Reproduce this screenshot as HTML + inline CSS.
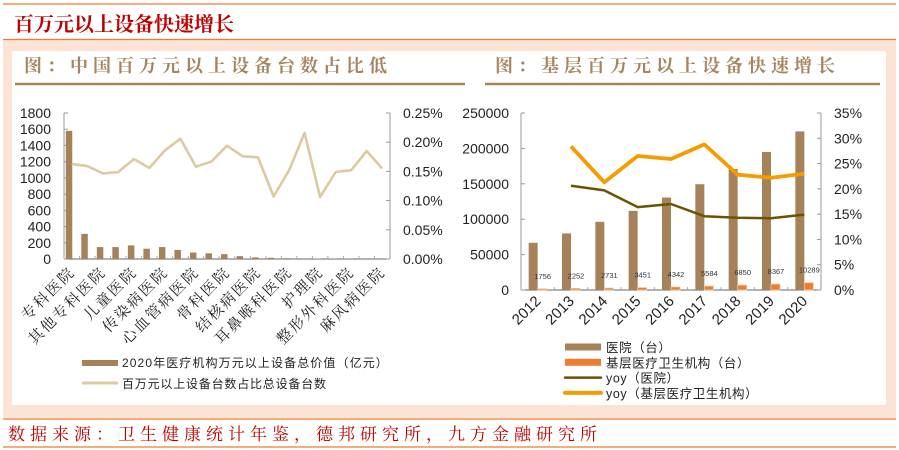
<!DOCTYPE html>
<html><head><meta charset="utf-8">
<style>
html,body{margin:0;padding:0;background:#fff;}
svg{display:block;}
text{font-family:"Liberation Sans","Noto Sans CJK SC",sans-serif;}
.cjk{font-family:"Noto Serif CJK SC","Liberation Serif",serif;}
</style></head>
<body>
<svg id="root" width="899" height="450" xmlns="http://www.w3.org/2000/svg">
  <rect x="0" y="0" width="899" height="450" fill="#fff"/>
  <line x1="3" y1="4" x2="896" y2="4" stroke="#ed7d31" stroke-width="1.2"/>
  <text x="14" y="31" class="cjk" font-size="20" fill="#c00000" font-weight="bold">百万元以上设备快速增长</text>
  <rect x="3" y="39" width="893" height="379" fill="#fbe3d6"/>
  <line x1="3" y1="39.5" x2="896" y2="39.5" stroke="#ed7d31" stroke-width="1.2"/>
  <rect x="12" y="51" width="874" height="354" fill="#fff"/>
  <text x="24" y="72" class="cjk" font-size="18" fill="#a6845e" font-weight="bold" letter-spacing="5">图：中国百万元以上设备台数占比低</text>
  <line x1="15" y1="84" x2="465" y2="84" stroke="#a6845e" stroke-width="2.5"/>
  <text x="495" y="72" class="cjk" font-size="18" fill="#a6845e" font-weight="bold" letter-spacing="5">图：基层百万元以上设备快速增长</text>
  <line x1="485" y1="84" x2="880" y2="84" stroke="#a6845e" stroke-width="2.5"/>
  <line x1="3" y1="419" x2="896" y2="419" stroke="#ed7d31" stroke-width="1.2"/>
  <text x="8" y="440" class="cjk" font-size="17" fill="#c00000" letter-spacing="5">数据来源：卫生健康统计年鉴，德邦研究所，九方金融研究所</text>
  <line x1="3" y1="447" x2="896" y2="447" stroke="#ed7d31" stroke-width="1.2"/>
  <g id="left"></g>
  <g id="right"></g>
</svg>
<script>
const NS='http://www.w3.org/2000/svg';
const leftCats=['专科医院','肿瘤医院','其他专科医院','口腔医院','儿童医院','眼科医院','传染病医院','精神病医院','心血管病医院','妇产科医院','骨科医院','康复医院','结核病医院','胸科医院','耳鼻喉科医院','皮肤病医院','护理院','职业病医院','整形外科医院','美容医院','麻风病医院'];
const leftValues=[1580,310,147,147,168,127,147,112,80,70,60,35,20,15,10,8,6,4,3,2,1];
const leftShare=[0.1625,0.159,0.1466,0.149,0.171,0.156,0.186,0.206,0.158,0.167,0.194,0.176,0.174,0.107,0.152,0.216,0.106,0.149,0.152,0.185,0.155];
const leftTicks=[0,200,400,600,800,1000,1200,1400,1600,1800];
const leftPctTicks=[0,0.05,0.10,0.15,0.20,0.25];
const years=['2012','2013','2014','2015','2016','2017','2018','2019','2020'];
const hospital=[66700,79900,96300,111800,130600,149400,171000,195000,224000];
const basic=[1756,2252,2731,3451,4342,5584,6850,8367,10289];
const yoyHospital=[null,20.6,19.7,16.4,17.0,14.6,14.3,14.2,14.9];
const yoyBasic=[null,28.4,21.3,26.5,25.9,28.8,22.8,22.2,23.0];
const rightTicks=[0,50000,100000,150000,200000,250000];
const rightPctTicks=[0,5,10,15,20,25,30,35];

function mk(p,tag,a,txt){const e=document.createElementNS(NS,tag);for(const k in a)e.setAttribute(k,a[k]);if(txt!==undefined)e.textContent=txt;p.appendChild(e);return e;}

// LEFT
(function(){
const g=document.getElementById('left');
const x0=64,x1=390,yT=113,yB=259;
const bw=(x1-x0)/leftCats.length;
const yL=v=>yB-(v/1800)*(yB-yT);
const yR=v=>yB-(v/0.25)*(yB-yT);
mk(g,'line',{x1:x0,y1:yT,x2:x0,y2:yB,stroke:'#999','stroke-width':1});
mk(g,'line',{x1:x1,y1:yT,x2:x1,y2:yB,stroke:'#999','stroke-width':1});
mk(g,'line',{x1:x0,y1:yB,x2:x1,y2:yB,stroke:'#666','stroke-width':1});
leftTicks.forEach(t=>{
  mk(g,'line',{x1:x0,y1:yL(t),x2:x0+4,y2:yL(t),stroke:'#999'});
  const e=mk(g,'text',{x:x0-13,y:yL(t)+5,'font-size':14,'text-anchor':'end',fill:'#222'},String(t));
  
  
});
leftPctTicks.forEach(t=>{
  mk(g,'line',{x1:x1-4,y1:yR(t),x2:x1,y2:yR(t),stroke:'#999'});
  const e=mk(g,'text',{x:x1+13,y:yR(t)+5,'font-size':14,fill:'#222'},t.toFixed(2)+'%');
  
  
});
leftCats.forEach((c,i)=>{
  const cx=x0+bw*(i+0.5);
  mk(g,'line',{x1:x0+bw*i,y1:yB,x2:x0+bw*i,y2:yB-3,stroke:'#aaa'});
  const r=mk(g,'rect',{x:cx-6,y:yL(leftValues[i]),width:6.5,height:yB-yL(leftValues[i]),fill:'#a6825a'});
  
  
  if(i%2===0){
    const t=mk(g,'text',{x:cx+4,y:yB+14,'font-size':15,'letter-spacing':2,'text-anchor':'end',fill:'#222',class:'cjk',transform:`rotate(-45 ${cx+4} ${yB+14})`},c);
    
    
  }
});
let d='';
leftShare.forEach((v,i)=>{d+=(i?'L':'M')+(x0+bw*(i+0.5)).toFixed(1)+','+yR(v).toFixed(1);});
const l=mk(g,'path',{d:d,fill:'none',stroke:'#dccba0','stroke-width':2.6,'stroke-linejoin':'round'});


const lg1=mk(g,'rect',{x:82,y:360,width:36,height:6,fill:'#a6825a'});


mk(g,'text',{x:122,y:367,'font-size':12,'letter-spacing':1.1,fill:'#222'},'2020年医疗机构万元以上设备总价值（亿元）');
mk(g,'line',{x1:82,y1:383,x2:118,y2:383,stroke:'#dccba0','stroke-width':3});
mk(g,'text',{x:122,y:388,'font-size':12,'letter-spacing':0.8,fill:'#222'},'百万元以上设备台数占比总设备台数');
})();

// RIGHT
(function(){
const g=document.getElementById('right');
const x0=521,x1=821,yT=113,yB=290;
const bw=(x1-x0)/years.length;
const yL=v=>yB-(v/250000)*(yB-yT);
const yR=v=>yB-(v/35)*(yB-yT);
mk(g,'line',{x1:x0,y1:yT,x2:x0,y2:yB,stroke:'#999'});
mk(g,'line',{x1:x1,y1:yT,x2:x1,y2:yB,stroke:'#999'});
mk(g,'line',{x1:x0,y1:yB,x2:x1,y2:yB,stroke:'#666'});
rightTicks.forEach(t=>{
  mk(g,'line',{x1:x0,y1:yL(t),x2:x0+4,y2:yL(t),stroke:'#999'});
  const e=mk(g,'text',{x:x0-12,y:yL(t)+5,'font-size':14,'text-anchor':'end',fill:'#222'},String(t));
  
  
});
rightPctTicks.forEach(t=>{
  mk(g,'line',{x1:x1-4,y1:yR(t),x2:x1,y2:yR(t),stroke:'#999'});
  const e=mk(g,'text',{x:x1+13,y:yR(t)+5,'font-size':14,fill:'#222'},t+'%');
  
  
});
years.forEach((y,i)=>{
  const cx=x0+bw*(i+0.5);
  mk(g,'line',{x1:x0+bw*i,y1:yB,x2:x0+bw*i,y2:yB-3,stroke:'#aaa'});
  const r=mk(g,'rect',{x:cx-9,y:yL(hospital[i]),width:9,height:yB-yL(hospital[i]),fill:'#a6825a'});
  
  
  const b=mk(g,'rect',{x:cx,y:yL(basic[i]),width:9,height:yB-yL(basic[i]),fill:'#ed7d31',stroke:'#f2c79f','stroke-width':0.8});
  
  
  const lb=mk(g,'text',{x:cx+5,y:yL(basic[i])-10,'font-size':7.5,'text-anchor':'middle',fill:'#333'},String(basic[i]));
  
  
  const t=mk(g,'text',{x:cx+4,y:yB+12,'font-size':15,'text-anchor':'end',fill:'#222',transform:`rotate(-45 ${cx+4} ${yB+12})`},y);
  
  
});
function line(arr,color,w,name){
  let d='';let s=true;
  arr.forEach((v,i)=>{if(v===null)return;d+=(s?'M':'L')+(x0+bw*(i+0.5)).toFixed(1)+','+yR(v).toFixed(1);s=false;});
  const p=mk(g,'path',{d:d,fill:'none',stroke:color,'stroke-width':w,'stroke-linejoin':'round'});
  
  
}
line(yoyHospital,'#6b5400',2.5,'yoy-hospital-line');
line(yoyBasic,'#f59c00',3.8,'yoy-basic-line');
const L=[['rect','#a6825a','医院（台）'],['rect','#ed7d31','基层医疗卫生机构（台）'],['line','#6b5400','yoy（医院）'],['line','#f59c00','yoy（基层医疗卫生机构）']];
L.forEach((it,i)=>{
  const y=347+i*15.3;
  if(it[0]==='rect') mk(g,'rect',{x:565,y:y-3.5,width:36,height:7,fill:it[1]});
  else mk(g,'line',{x1:565,y1:y,x2:601,y2:y,stroke:it[1],'stroke-width':i===3?4:2.5,'stroke-linecap':'round'});
  const t=mk(g,'text',{x:606,y:y+5,'font-size':12.5,'letter-spacing':0.6,fill:'#222'},it[2]);
  
  
});
})();
</script>
</body></html>
